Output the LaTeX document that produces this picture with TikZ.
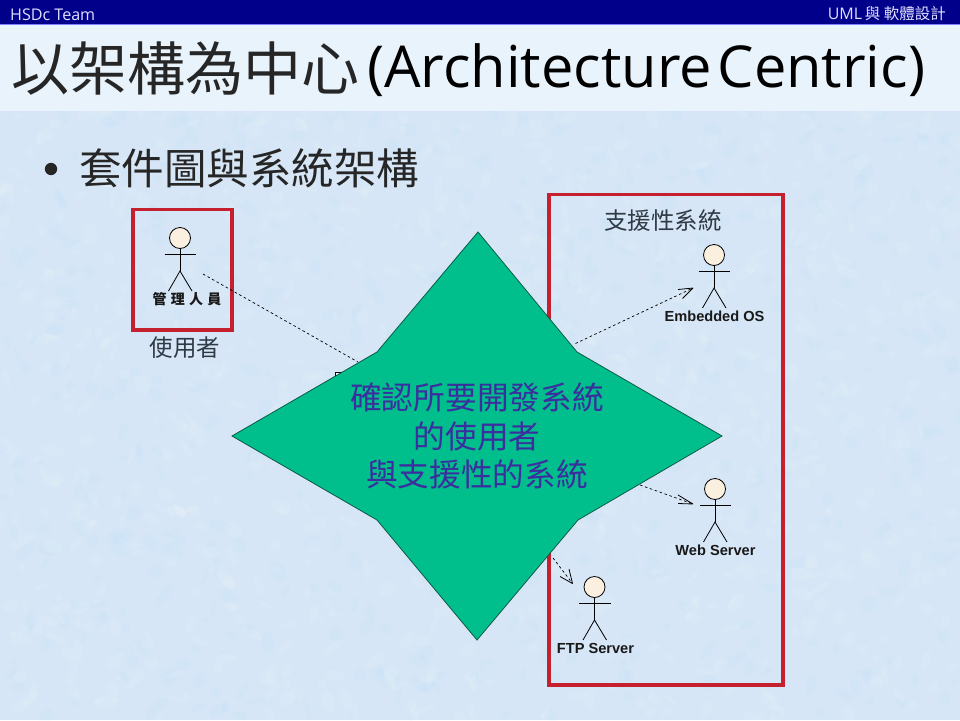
\documentclass[tikz,border=0pt]{standalone}
\usepackage{fontspec}
\setmainfont{Open Sans}
\newfontfamily\cjk{Noto Sans CJK TC}
\newfontfamily\boldsans{Liberation Sans}[BoldFont={Liberation Sans Bold}]
\definecolor{navy}{HTML}{00008B}
\definecolor{bgblue}{HTML}{D6E6F6}
\definecolor{bandblue}{HTML}{E8F3FB}
\definecolor{boxred}{HTML}{C4202E}
\definecolor{gemgreen}{HTML}{00BF8C}
\definecolor{gemedge}{HTML}{0B5A45}
\definecolor{gemtext}{HTML}{3B2E9E}
\definecolor{headfill}{HTML}{FBEFE0}
\definecolor{inkgrey}{HTML}{2F3A45}
\tikzset{
  x=1pt,y=-1pt,
  redbox/.style={draw=boxred,line width=3.2pt},
  limb/.style={draw=black,line width=0.8pt},
  actorhead/.style={circle,draw=black,line width=0.8pt,fill=headfill,minimum size=21pt,inner sep=0pt},
  actorlabel/.style={font=\boldsans\bfseries\fontsize{14.6}{14.6}\selectfont,inner sep=0pt,text=black!90},
  cjklabel/.style={font=\cjk\fontsize{14}{14}\selectfont\bfseries,inner sep=0pt,text=black!90},
  dep/.style={draw=black,line width=0.7pt,dash pattern=on 2.6pt off 2.6pt},
  headtip/.style={draw=black,line width=0.8pt},
  caption/.style={font=\cjk\fontsize{23.5}{23.5}\selectfont,text=inkgrey,inner sep=0pt},
  gemlabel/.style={font=\cjk\fontsize{31.7}{38.5}\selectfont,text=gemtext,inner sep=0pt,align=center},
}
\newcommand{\stickman}[4]{% name, x, y of head centre, label style
  \node[actorhead] (#1) at (#2,#3) {};
  \draw[limb] (#2,#3+10.5) -- (#2,#3+33) coordinate (#1hip);
  \draw[limb] (#2-15.5,#3+16) -- (#2+16,#3+16);
  \draw[limb] (#2-11.5,#3+53) -- (#1hip) -- (#2+12,#3+53);
}
\begin{document}
\begin{tikzpicture}
\useasboundingbox (0,0) rectangle (960,720);
\fill[bgblue] (0,0) rectangle (960,720);
% mottled paper texture
\pgfmathsetseed{4242}
\foreach \i in {1,...,1400}{
  \pgfmathsetmacro{\px}{960*rnd}
  \pgfmathsetmacro{\py}{110+610*rnd}
  \pgfmathsetmacro{\ra}{3+9*rnd}
  \pgfmathsetmacro{\rb}{2+5*rnd}
  \pgfmathsetmacro{\ang}{180*rnd}
  \pgfmathsetmacro{\wh}{rnd}
  \ifdim\wh pt<0.6pt
    \fill[white,opacity=0.09,rotate around={\ang:(\px,\py)}] (\px,\py) ellipse [x radius=\ra,y radius=\rb];
  \else
    \fill[blue!35!cyan!50!white,opacity=0.04,rotate around={\ang:(\px,\py)}] (\px,\py) ellipse [x radius=\ra,y radius=\rb];
  \fi
}
\fill[bandblue] (0,24) rectangle (960,111);
\fill[navy] (0,0) rectangle (960,24);
\draw[blue!50!white,line width=0.8pt] (0,24) -- (960,24);
\node[anchor=west,inner sep=0pt,text=white!88!blue,font=\fontsize{16}{16}\selectfont] (team) at (10,15) {\resizebox{85pt}{!}{HSDc Team}};
\node[anchor=east,inner sep=0pt,text=white!88!blue,font=\fontsize{16}{16}\selectfont] (course) at (946,14) {UML\,{\cjk\fontsize{15.5}{15.5}\selectfont 與 軟體設計}};
% title
\node[anchor=west,inner sep=0pt,font=\cjk\fontsize{58}{58}\selectfont,text=black!85] (titlecjk) at (11,69) {以架構為中心};
\node[anchor=west,inner sep=0pt,text=black] (titlelat) at (367,70) {\resizebox{558pt}{!}{\fontsize{56}{56}\selectfont (Architecture\hspace{0.1em}Centric)}};
% bullet
\fill[black!85] (51,169) circle [radius=6.2];
\node[anchor=west,inner sep=0pt,font=\cjk\fontsize{42.5}{42.5}\selectfont,text=black!85] (sub) at (79,168) {套件圖與系統架構};
% red boxes
\draw[redbox] (133,209.5) rectangle (232,330);
\draw[redbox] (549,194.5) rectangle (783,685);
\node[caption] (users) at (185,348) {使用者};
\node[caption] (support) at (663,221) {支援性系統};
% actors
\stickman{admin}{180}{238}{}
\node[cjklabel] (adminlbl) at (187,299.5) {管\hspace{4.2pt}理\hspace{4.2pt}人\hspace{4.2pt}員};
\stickman{eos}{714}{255}{}
\node[actorlabel] (eoslbl) at (714.5,316) {Embedded OS};
\stickman{web}{715}{489}{}
\node[actorlabel] (weblbl) at (715.5,550) {Web Server};
\stickman{ftp}{594.5}{587}{}
\node[actorlabel] (ftplbl) at (595.5,648) {FTP Server};
% hidden component and dependencies
\node[draw=black,line width=0.8pt,fill=white,minimum width=24pt,minimum height=20pt,inner sep=0pt] (comp) at (347,382) {};
\coordinate (aA) at (203,274);
\coordinate (aB) at (358,362);
\draw[dep] (aA) -- (aB);
\coordinate (eA) at (575.5,343.5);
\coordinate (eB) at (693,288);
\draw[dep] (eA) -- (eB);
\draw[headtip] (eB) -- (682.5,298.5) (eB) -- (678,289.5);
\coordinate (wA) at (640,485);
\coordinate (wB) at (693,504);
\draw[dep] (wA) -- (wB);
\draw[headtip] (wB) -- (678,495) (wB) -- (678,503.5);
\coordinate (fA) at (553,558);
\coordinate (fB) at (572.5,583.5);
\draw[dep] (fA) -- (fB);
\draw[headtip] (fB) -- (569,569) (fB) -- (560,576.5);
% star
\draw[draw=gemedge,line width=0.8pt,fill=gemgreen] (478,232) -- (577,352) -- (722,436) -- (578,520) -- (477,640) -- (377,520) -- (232,436) -- (377,352) -- cycle;
\node[gemlabel] (gem) at (477,436) {確認所要開發系統\\的使用者\\與支援性的系統};
\end{tikzpicture}
\end{document}
